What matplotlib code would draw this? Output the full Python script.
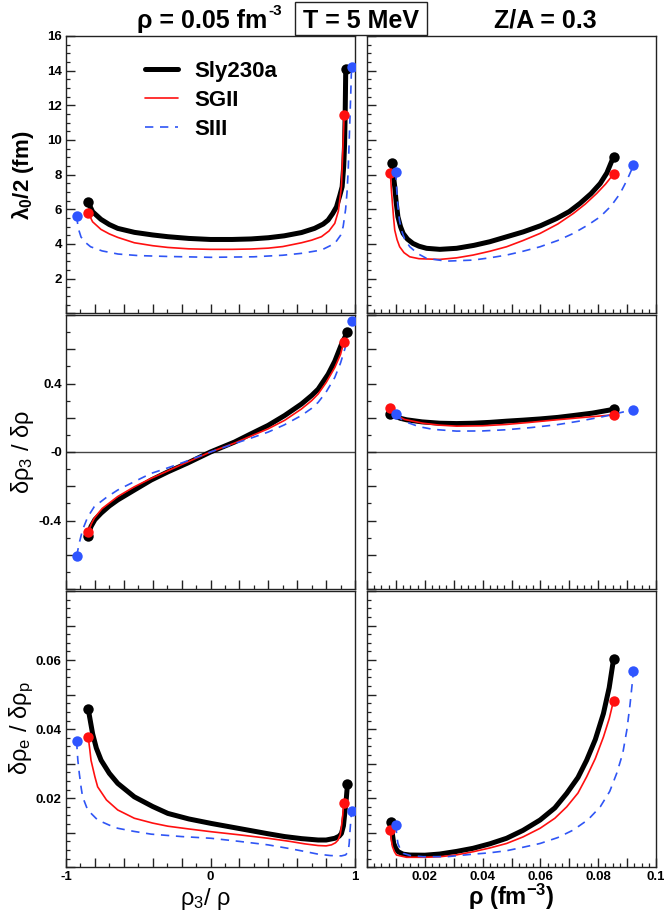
import numpy as np
import matplotlib
matplotlib.use("Agg")
import matplotlib.pyplot as plt
from matplotlib.ticker import MultipleLocator, FuncFormatter
from matplotlib.patches import Rectangle

plt.rcParams['font.family'] = ['Liberation Sans', 'DejaVu Sans']
plt.rcParams['mathtext.fontset'] = 'custom'
plt.rcParams['mathtext.rm'] = 'Liberation Sans'
plt.rcParams['mathtext.it'] = 'Liberation Sans:italic'
plt.rcParams['mathtext.bf'] = 'Liberation Sans:bold'
plt.rcParams['axes.unicode_minus'] = False

# ---------------- data ----------------
models = ["Sly230a", "SGII", "SIII"]

# top-left: lambda0/2 vs rho3/rho
lam_asym_sly_x = [-0.846, -0.816, -0.758, -0.70, -0.642, -0.526, -0.40, -0.295, -0.15, 0.0, 0.15, 0.28, 0.40, 0.51, 0.63, 0.72, 0.78, 0.814, 0.845, 0.872, 0.895, 0.911, 0.922, 0.928, 0.932, 0.936]
lam_asym_sly_y = [6.40, 5.86, 5.42, 5.12, 4.90, 4.67, 4.52, 4.42, 4.32, 4.26, 4.26, 4.29, 4.36, 4.47, 4.66, 4.90, 5.15, 5.38, 5.75, 6.14, 6.80, 7.30, 8.50, 9.80, 11.50, 14.12]
lam_asym_sg2_x = [-0.846, -0.816, -0.758, -0.70, -0.642, -0.527, -0.40, -0.295, -0.15, 0.0, 0.15, 0.28, 0.40, 0.50, 0.63, 0.70, 0.768, 0.82, 0.86, 0.885, 0.906, 0.915, 0.925]
lam_asym_sg2_y = [5.80, 5.28, 4.84, 4.58, 4.38, 4.07, 3.90, 3.80, 3.72, 3.69, 3.69, 3.71, 3.76, 3.85, 4.07, 4.22, 4.42, 4.75, 5.19, 5.90, 7.30, 9.20, 11.45]
lam_asym_s3_x = [-0.927, -0.915, -0.896, -0.86, -0.83, -0.75, -0.64, -0.50, -0.30, 0.0, 0.30, 0.50, 0.63, 0.768, 0.86, 0.90, 0.918, 0.935, 0.945, 0.953, 0.962, 0.970, 0.976]
lam_asym_s3_y = [5.63, 4.90, 4.40, 4.05, 3.84, 3.60, 3.42, 3.33, 3.28, 3.23, 3.26, 3.35, 3.46, 3.65, 4.03, 4.50, 5.00, 6.00, 7.00, 8.26, 10.50, 12.50, 14.20]

# middle-left: drho3/drho vs rho3/rho
d3_asym_sly_x = [-0.846, -0.827, -0.80, -0.757, -0.70, -0.642, -0.527, -0.411, -0.295, -0.157, 0.0, 0.166, 0.282, 0.398, 0.513, 0.629, 0.70, 0.745, 0.814, 0.86, 0.906, 0.930, 0.946]
d3_asym_sly_y = [-0.489, -0.435, -0.395, -0.357, -0.315, -0.28, -0.222, -0.164, -0.116, -0.064, 0.0, 0.058, 0.107, 0.155, 0.213, 0.28, 0.33, 0.367, 0.454, 0.53, 0.628, 0.67, 0.70]
d3_asym_sg2_x = [-0.846, -0.825, -0.804, -0.75, -0.642, -0.527, -0.411, -0.30, -0.18, 0.0, 0.166, 0.28, 0.398, 0.513, 0.629, 0.70, 0.745, 0.80, 0.86, 0.90, 0.922]
d3_asym_sg2_y = [-0.467, -0.42, -0.386, -0.33, -0.26, -0.203, -0.154, -0.112, -0.066, 0.0, 0.052, 0.093, 0.135, 0.185, 0.251, 0.30, 0.339, 0.405, 0.493, 0.57, 0.642]
d3_asym_s3_x = [-0.927, -0.905, -0.885, -0.85, -0.804, -0.72, -0.642, -0.52, -0.411, -0.30, -0.18, 0.0, 0.166, 0.28, 0.398, 0.51, 0.629, 0.70, 0.745, 0.80, 0.86, 0.90, 0.929, 0.955, 0.976]
d3_asym_s3_y = [-0.609, -0.52, -0.454, -0.38, -0.319, -0.265, -0.222, -0.17, -0.125, -0.094, -0.058, 0.0, 0.049, 0.081, 0.116, 0.158, 0.213, 0.255, 0.29, 0.35, 0.435, 0.52, 0.60, 0.68, 0.763]

# bottom-left: drhoe/drhop vs rho3/rho
de_asym_sly_x = [-0.846, -0.83, -0.816, -0.79, -0.757, -0.70, -0.642, -0.527, -0.40, -0.295, -0.15, 0.005, 0.15, 0.282, 0.40, 0.513, 0.63, 0.745, 0.80, 0.86, 0.89, 0.906, 0.92, 0.929, 0.94, 0.948]
de_asym_sly_y = [0.0458, 0.042, 0.0387, 0.0345, 0.031, 0.0272, 0.0243, 0.0204, 0.0176, 0.0156, 0.0140, 0.0127, 0.0116, 0.0106, 0.0097, 0.0089, 0.0083, 0.0079, 0.0079, 0.0084, 0.0090, 0.0098, 0.0120, 0.0156, 0.0200, 0.0241]
de_asym_sg2_x = [-0.846, -0.835, -0.827, -0.80, -0.781, -0.72, -0.642, -0.527, -0.40, -0.295, -0.15, 0.005, 0.20, 0.398, 0.55, 0.65, 0.745, 0.80, 0.837, 0.865, 0.883, 0.898, 0.906, 0.915, 0.922]
de_asym_sg2_y = [0.0376, 0.034, 0.031, 0.0262, 0.0233, 0.0195, 0.0166, 0.0142, 0.0128, 0.0119, 0.0111, 0.0103, 0.0094, 0.0084, 0.0075, 0.0068, 0.0063, 0.0062, 0.0065, 0.0071, 0.0079, 0.0095, 0.0117, 0.0150, 0.0187]
de_asym_s3_x = [-0.927, -0.918, -0.908, -0.895, -0.885, -0.85, -0.781, -0.70, -0.642, -0.53, -0.411, -0.20, 0.005, 0.20, 0.398, 0.55, 0.65, 0.745, 0.83, 0.906, 0.935, 0.953, 0.960, 0.964, 0.970, 0.976]
de_asym_s3_y = [0.0366, 0.031, 0.0272, 0.023, 0.0204, 0.0166, 0.0137, 0.0122, 0.0113, 0.0104, 0.0096, 0.0089, 0.0084, 0.0075, 0.0065, 0.0054, 0.0046, 0.0038, 0.0034, 0.0033, 0.0036, 0.0045, 0.0070, 0.0098, 0.0130, 0.0163]

# top-right: lambda0/2 vs rho
lam_rho_sly_x = [0.00867, 0.0091, 0.0096, 0.0101, 0.0107, 0.0116, 0.0125, 0.014, 0.0159, 0.018, 0.0206, 0.0252, 0.031, 0.037, 0.0425, 0.048, 0.0541, 0.060, 0.0656, 0.070, 0.0737, 0.0775, 0.0807, 0.083, 0.0853]
lam_rho_sly_y = [8.70, 8.00, 7.30, 6.40, 5.57, 5.00, 4.61, 4.28, 4.03, 3.87, 3.75, 3.69, 3.75, 3.92, 4.13, 4.40, 4.70, 5.05, 5.47, 5.87, 6.34, 6.90, 7.49, 8.10, 9.03]
lam_rho_sg2_x = [0.0081, 0.0084, 0.0088, 0.0092, 0.0096, 0.0104, 0.0113, 0.0128, 0.0148, 0.018, 0.0252, 0.031, 0.0367, 0.0425, 0.0483, 0.054, 0.0599, 0.066, 0.0714, 0.0755, 0.0795, 0.0825, 0.0853]
lam_rho_sg2_y = [8.07, 7.20, 6.34, 5.50, 4.80, 4.25, 3.84, 3.50, 3.26, 3.15, 3.11, 3.20, 3.36, 3.58, 3.84, 4.20, 4.61, 5.15, 5.76, 6.30, 6.92, 7.45, 8.03]
lam_rho_s3_x = [0.00995, 0.0103, 0.0107, 0.0112, 0.0119, 0.013, 0.0148, 0.0175, 0.0206, 0.0275, 0.0367, 0.0425, 0.0483, 0.054, 0.0599, 0.066, 0.0714, 0.0765, 0.0807, 0.0845, 0.0876, 0.090, 0.0922]
lam_rho_s3_y = [8.18, 7.10, 6.14, 5.40, 4.80, 4.30, 3.84, 3.45, 3.17, 3.01, 3.07, 3.20, 3.36, 3.58, 3.84, 4.20, 4.61, 5.10, 5.57, 6.20, 6.92, 7.70, 8.53]

# middle-right: drho3/drho vs rho
d3_rho_sly_x = [0.0081, 0.0095, 0.0115, 0.0137, 0.019, 0.0252, 0.031, 0.0367, 0.0425, 0.0483, 0.054, 0.0599, 0.066, 0.0714, 0.078, 0.0853]
d3_rho_sly_y = [0.222, 0.21, 0.197, 0.188, 0.176, 0.168, 0.166, 0.168, 0.173, 0.18, 0.186, 0.193, 0.202, 0.213, 0.227, 0.249]
d3_rho_sg2_x = [0.0081, 0.009, 0.0102, 0.013, 0.0194, 0.025, 0.031, 0.040, 0.0483, 0.057, 0.0656, 0.075, 0.0853]
d3_rho_sg2_y = [0.257, 0.235, 0.213, 0.19, 0.168, 0.157, 0.151, 0.153, 0.161, 0.174, 0.188, 0.202, 0.217]
d3_rho_s3_x = [0.00995, 0.0115, 0.0137, 0.018, 0.0229, 0.031, 0.040, 0.0483, 0.057, 0.0656, 0.073, 0.0807, 0.0865, 0.0922]
d3_rho_s3_y = [0.219, 0.195, 0.174, 0.148, 0.132, 0.122, 0.123, 0.13, 0.143, 0.159, 0.179, 0.203, 0.225, 0.248]

# bottom-right: drhoe/drhop vs rho
de_rho_sly_x = [0.00846, 0.0088, 0.00925, 0.0100, 0.0108, 0.0125, 0.0148, 0.020, 0.0252, 0.031, 0.0367, 0.0425, 0.0483, 0.054, 0.0599, 0.065, 0.0691, 0.073, 0.076, 0.079, 0.0818, 0.0838, 0.0853]
de_rho_sly_y = [0.0130, 0.0095, 0.0069, 0.0054, 0.0045, 0.0038, 0.00355, 0.0035, 0.00384, 0.0046, 0.0055, 0.0068, 0.0084, 0.0107, 0.0137, 0.0172, 0.0214, 0.026, 0.031, 0.037, 0.0445, 0.052, 0.0602]
de_rho_sg2_x = [0.0081, 0.0084, 0.0088, 0.0095, 0.0102, 0.0137, 0.020, 0.0252, 0.031, 0.0367, 0.0425, 0.0483, 0.054, 0.0599, 0.065, 0.0691, 0.073, 0.076, 0.079, 0.0818, 0.0838, 0.0853]
de_rho_sg2_y = [0.0108, 0.008, 0.006, 0.0045, 0.00355, 0.0029, 0.0029, 0.00306, 0.0036, 0.0045, 0.0056, 0.0069, 0.0088, 0.0113, 0.0142, 0.0175, 0.0215, 0.0262, 0.0315, 0.0377, 0.043, 0.0482]
de_rho_s3_x = [0.00995, 0.0103, 0.0107, 0.0115, 0.0125, 0.015, 0.0194, 0.028, 0.0367, 0.0425, 0.0483, 0.054, 0.0599, 0.066, 0.0714, 0.0765, 0.0807, 0.084, 0.0864, 0.0885, 0.0899, 0.091, 0.0922]
de_rho_s3_y = [0.0123, 0.0092, 0.0069, 0.0052, 0.00405, 0.0034, 0.00306, 0.0031, 0.0038, 0.0042, 0.0048, 0.0058, 0.0069, 0.0086, 0.0108, 0.0138, 0.0175, 0.022, 0.0272, 0.033, 0.0397, 0.047, 0.0567]

# ---------------- styles ----------------
BLUE = '#2f55f5'
styles = [
    dict(color='black', lw=3.6, ls='-'),
    dict(color='#ff1010', lw=1.2, ls='-'),
    dict(color=BLUE, lw=1.2, ls=(0, (5, 4))),
]
mcolors = ['black', '#ff1010', '#2f55ff']

W, H = 664, 915
fig = plt.figure(figsize=(W / 100, H / 100), dpi=100)

def fx(px):
    return px / W

def fy(py):
    return 1 - py / H

col_x = [66, 367]
col_w = 289
rows = [(36, 313.3), (315, 589), (591, 867.3)]

axes = {}
for r, (top, bot) in enumerate(rows):
    for c, x0 in enumerate(col_x):
        ax = fig.add_axes([fx(x0), fy(bot), col_w / W, (bot - top) / H])
        axes[(r, c)] = ax

data = {
    (0, 0): [(lam_asym_sly_x, lam_asym_sly_y), (lam_asym_sg2_x, lam_asym_sg2_y), (lam_asym_s3_x, lam_asym_s3_y)],
    (1, 0): [(d3_asym_sly_x, d3_asym_sly_y), (d3_asym_sg2_x, d3_asym_sg2_y), (d3_asym_s3_x, d3_asym_s3_y)],
    (2, 0): [(de_asym_sly_x, de_asym_sly_y), (de_asym_sg2_x, de_asym_sg2_y), (de_asym_s3_x, de_asym_s3_y)],
    (0, 1): [(lam_rho_sly_x, lam_rho_sly_y), (lam_rho_sg2_x, lam_rho_sg2_y), (lam_rho_s3_x, lam_rho_s3_y)],
    (1, 1): [(d3_rho_sly_x, d3_rho_sly_y), (d3_rho_sg2_x, d3_rho_sg2_y), (d3_rho_s3_x, d3_rho_s3_y)],
    (2, 1): [(de_rho_sly_x, de_rho_sly_y), (de_rho_sg2_x, de_rho_sg2_y), (de_rho_s3_x, de_rho_s3_y)],
}

ylims = [(0, 16), (-0.8, 0.8), (0, 0.08)]
xlims = [(-1, 1), (0, 0.1)]

def lab_fmt(allowed, fmt):
    def f(v, pos):
        for a in allowed:
            if abs(v - a) < 1e-9:
                return fmt(a)
        return ''
    return FuncFormatter(f)

for (r, c), ax in axes.items():
    for i, (xs, ys) in enumerate(data[(r, c)]):
        st = styles[i]
        ax.plot(xs, ys, color=st['color'], lw=st['lw'], ls=st['ls'],
                solid_capstyle='round', solid_joinstyle='round', zorder=2 + i,
                label=models[i] if (r, c) == (0, 0) else None)
    for i, (xs, ys) in enumerate(data[(r, c)]):
        ax.plot([xs[0], xs[-1]], [ys[0], ys[-1]], 'o', color=mcolors[i], ms=7.5,
                mec='none', zorder=6 + i)
    ax.set_xlim(*xlims[c])
    ax.set_ylim(*ylims[r])
    for s in ax.spines.values():
        s.set_linewidth(1.0)
        s.set_color('#222222')
    ax.tick_params(which='both', direction='in', top=False, right=False,
                   colors='#222222', labelcolor='black')
    ax.tick_params(which='major', length=6.5, width=1.0, labelsize=9.5, pad=3)
    ax.tick_params(which='minor', length=3.2, width=0.9)
    # x ticks
    if c == 0:
        ax.xaxis.set_major_locator(MultipleLocator(0.2))
        ax.xaxis.set_minor_locator(MultipleLocator(0.1))
        ax.xaxis.set_major_formatter(lab_fmt([-1, 0, 1], lambda a: '%d' % a))
    else:
        ax.xaxis.set_major_locator(MultipleLocator(0.01))
        ax.xaxis.set_minor_locator(MultipleLocator(0.0025))
        ax.xaxis.set_major_formatter(lab_fmt([0.02, 0.04, 0.06, 0.08, 0.1], lambda a: ('%g' % a)))
    if r != 2:
        ax.tick_params(axis='x', labelbottom=False)
    # y ticks
    if r == 0:
        ax.yaxis.set_major_locator(MultipleLocator(2))
        ax.yaxis.set_minor_locator(MultipleLocator(0.5))
        ax.yaxis.set_major_formatter(lab_fmt(list(range(2, 17, 2)), lambda a: '%d' % a))
    elif r == 1:
        ax.yaxis.set_major_locator(MultipleLocator(0.2))
        ax.yaxis.set_minor_locator(MultipleLocator(0.1))
        ax.yaxis.set_major_formatter(lab_fmt([-0.4, 0.0, 0.4], lambda a: {-0.4: '-0.4', 0.0: '-0', 0.4: '0.4'}[a]))
        ax.axhline(0, color='#444444', lw=1.0, zorder=1)
    else:
        ax.yaxis.set_major_locator(MultipleLocator(0.01))
        ax.yaxis.set_minor_locator(MultipleLocator(0.0025))
        ax.yaxis.set_major_formatter(lab_fmt([0.02, 0.04, 0.06], lambda a: '%g' % a))
    if c == 1:
        ax.tick_params(axis='y', labelleft=False)
    for t in ax.get_xticklabels() + ax.get_yticklabels():
        t.set_fontweight('bold')

# legend
leg = axes[(0, 0)].legend(loc='upper left', bbox_to_anchor=(0.272, 0.91), frameon=False,
                          prop=dict(size=16, weight='bold'), handlelength=1.5,
                          handletextpad=0.75, labelspacing=0.36, borderpad=0, borderaxespad=0)

# header
fig.text(fx(267), fy(28), 'ρ = 0.05 fm', ha='right', va='baseline', fontsize=18, fontweight='bold')
fig.text(fx(268), fy(15), '-3', ha='left', va='baseline', fontsize=11, fontweight='bold')
fig.text(fx(361), fy(28), 'T = 5 MeV', ha='center', va='baseline', fontsize=18, fontweight='bold')
fig.text(fx(545), fy(28), 'Z/A = 0.3', ha='center', va='baseline', fontsize=18, fontweight='bold')
fig.patches.append(Rectangle((fx(295), fy(35)), 132 / W, 33 / H, transform=fig.transFigure,
                             fill=False, lw=1.0, ec='#222222'))

# axis labels
fig.text(fx(23), fy(175), r'$\mathbf{λ_0/2\ (fm)}$', rotation=90, ha='center', va='center', fontsize=16)
fig.text(fx(22), fy(452), r'$\mathregular{δρ_3\ /\ δρ}$', rotation=90, ha='center', va='center', fontsize=17)
fig.text(fx(22), fy(728), r'$\mathregular{δρ_e\ /\ δρ_p}$', rotation=90, ha='center', va='center', fontsize=17)
fig.text(fx(206), fy(899), r'$\mathregular{ρ_3/\ ρ}$', ha='center', va='center', fontsize=17)
fig.text(fx(511), fy(897), r'$\mathbf{ρ\ (fm^{-3})}$', ha='center', va='center', fontsize=17)

fig.savefig('out.png', dpi=100)
